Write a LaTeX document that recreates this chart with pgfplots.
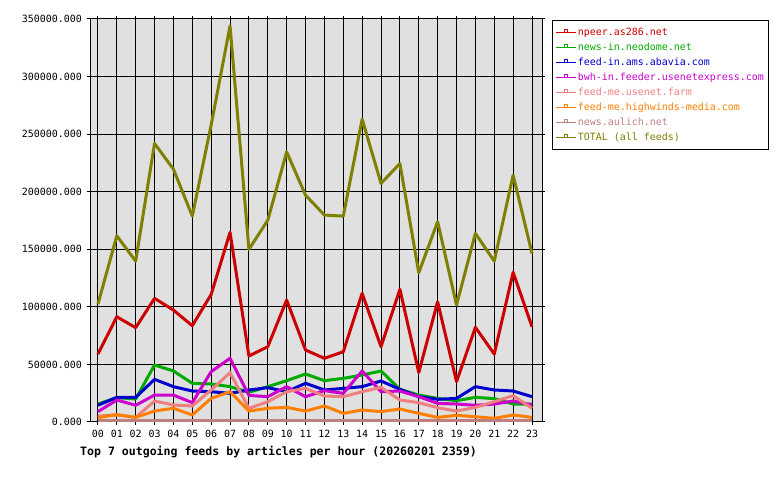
\documentclass[border=0pt]{standalone}
\usepackage{fontspec}
\setmainfont{DejaVu Sans Mono}
\usepackage{pgfplots}
\pgfplotsset{compat=1.18}
\usepackage{pgfplotstable}
\definecolor{cnpeer}{RGB}{204,0,0}
\definecolor{cneodome}{RGB}{0,170,0}
\definecolor{cabavia}{RGB}{0,0,204}
\definecolor{cbwh}{RGB}{204,0,204}
\definecolor{cfarm}{RGB}{240,128,128}
\definecolor{chw}{RGB}{255,128,0}
\definecolor{caulich}{RGB}{192,128,128}
\definecolor{ctotal}{RGB}{128,128,0}
\definecolor{bggray}{RGB}{224,224,224}

\pgfplotstableread{
h npeer neodome abavia bwh farm hw aulich total
0 59000 15600 14500 9000 5200 3800 1200 102400
1 91400 21100 21400 19100 6100 6400 1200 161700
2 81900 20000 21400 14500 4000 4000 1200 139700
3 107400 49500 37000 23400 18200 9500 1200 241900
4 97200 44300 30700 23400 14800 11900 1200 219600
5 83600 33600 26900 16800 13900 6100 1200 178800
6 110800 33000 26300 43700 27800 20500 1200 258000
7 164700 30700 24900 55300 42800 26300 1200 344000
8 57300 25800 27800 23100 11900 9500 1200 149900
9 65400 30700 29800 22000 17600 11900 1200 175300
10 105900 35900 26300 30700 26300 12700 1200 234600
11 62500 41700 33600 22000 29200 9500 1200 197000
12 55300 35900 27800 27200 22600 13900 1200 179700
13 61000 37900 29200 24900 22000 7500 1200 178800
14 111700 40800 30700 44300 26300 10400 1200 263000
15 65400 44300 35600 26300 30100 9000 1200 207200
16 115200 28400 28400 26900 19100 11300 1200 224500
17 43000 23400 22000 22000 16800 7500 1200 129600
18 104400 20500 19700 16200 12400 4000 1200 174000
19 35000 18500 20500 15600 9500 5800 1200 101600
20 82200 21400 30700 14500 12700 4600 1200 163800
21 59000 20300 27800 15600 17600 3200 1200 139700
22 130000 15600 26900 18200 22900 6100 1200 214400
23 82700 15600 22000 14800 11900 4000 1200 146400
}\feeds

\begin{document}
\begin{tikzpicture}[x=1bp,y=1bp]
\useasboundingbox (0,0) rectangle (780,480);
\begin{axis}[
  at={(90bp,58bp)}, anchor=south west,
  scale only axis, width=452bp, height=403bp,
  xmin=-0.42, xmax=23.53, ymin=0, ymax=350000,
  xtick={0,...,23},
  xticklabels={00,01,02,03,04,05,06,07,08,09,10,11,12,13,14,15,16,17,18,19,20,21,22,23},
  ytick={0,50000,100000,150000,200000,250000,300000,350000},
  yticklabels={0.000,50000.000,100000.000,150000.000,200000.000,250000.000,300000.000,350000.000},
  scaled y ticks=false,
  /pgf/number format/assume math mode=true,
  tick align=outside, major tick length=3bp,
  tick style={black, line width=1bp},
  grid=major, major grid style={black, line width=1bp},
  axis line style={black, line width=1bp},
  axis background/.style={fill=bggray},
  ticklabel style={font=\fontsize{10}{12}\selectfont, inner sep=0pt},
  xticklabel style={yshift=-5bp},
  yticklabel style={xshift=-5bp},
  every axis plot/.append style={line width=3bp, mark=none, line join=round},
  legend cell align=left,
  legend style={at={(1.0221,0.9975)}, anchor=north west, draw=black, line width=1bp,
    fill=white, font=\fontsize{10}{12}\selectfont, row sep=2bp,
    nodes={inner sep=1.5bp, text height=8bp, text depth=2bp},
    inner xsep=3bp, inner ysep=5.5bp},
  legend image code/.code={
    \draw[#1, line width=1bp] (0bp,0bp) -- (20bp,0bp);
    \draw[#1, line width=0.8bp, fill=white] (8.5bp,0bp) rectangle (11.5bp,3bp);
  },
]
\addplot[cnpeer] table[x=h,y=npeer] {\feeds};
\addlegendentry{\textcolor{cnpeer}{npeer.as286.net}}
\addplot[cneodome] table[x=h,y=neodome] {\feeds};
\addlegendentry{\textcolor{cneodome}{news-in.neodome.net}}
\addplot[cabavia] table[x=h,y=abavia] {\feeds};
\addlegendentry{\textcolor{cabavia}{feed-in.ams.abavia.com}}
\addplot[cbwh] table[x=h,y=bwh] {\feeds};
\addlegendentry{\textcolor{cbwh}{bwh-in.feeder.usenetexpress.com}}
\addplot[cfarm] table[x=h,y=farm] {\feeds};
\addlegendentry{\textcolor{cfarm}{feed-me.usenet.farm}}
\addplot[chw] table[x=h,y=hw] {\feeds};
\addlegendentry{\textcolor{chw}{feed-me.highwinds-media.com}}
\addplot[caulich] table[x=h,y=aulich] {\feeds};
\addlegendentry{\textcolor{caulich}{news.aulich.net}}
\addplot[ctotal] table[x=h,y=total] {\feeds};
\addlegendentry{\textcolor{ctotal}{TOTAL (all feeds)}}
\end{axis}
\node[anchor=base west, inner sep=0pt, font=\bfseries\fontsize{11.6}{13}\selectfont] at (80,24) {Top 7 outgoing feeds by articles per hour (20260201 2359)};
\end{tikzpicture}
\end{document}
